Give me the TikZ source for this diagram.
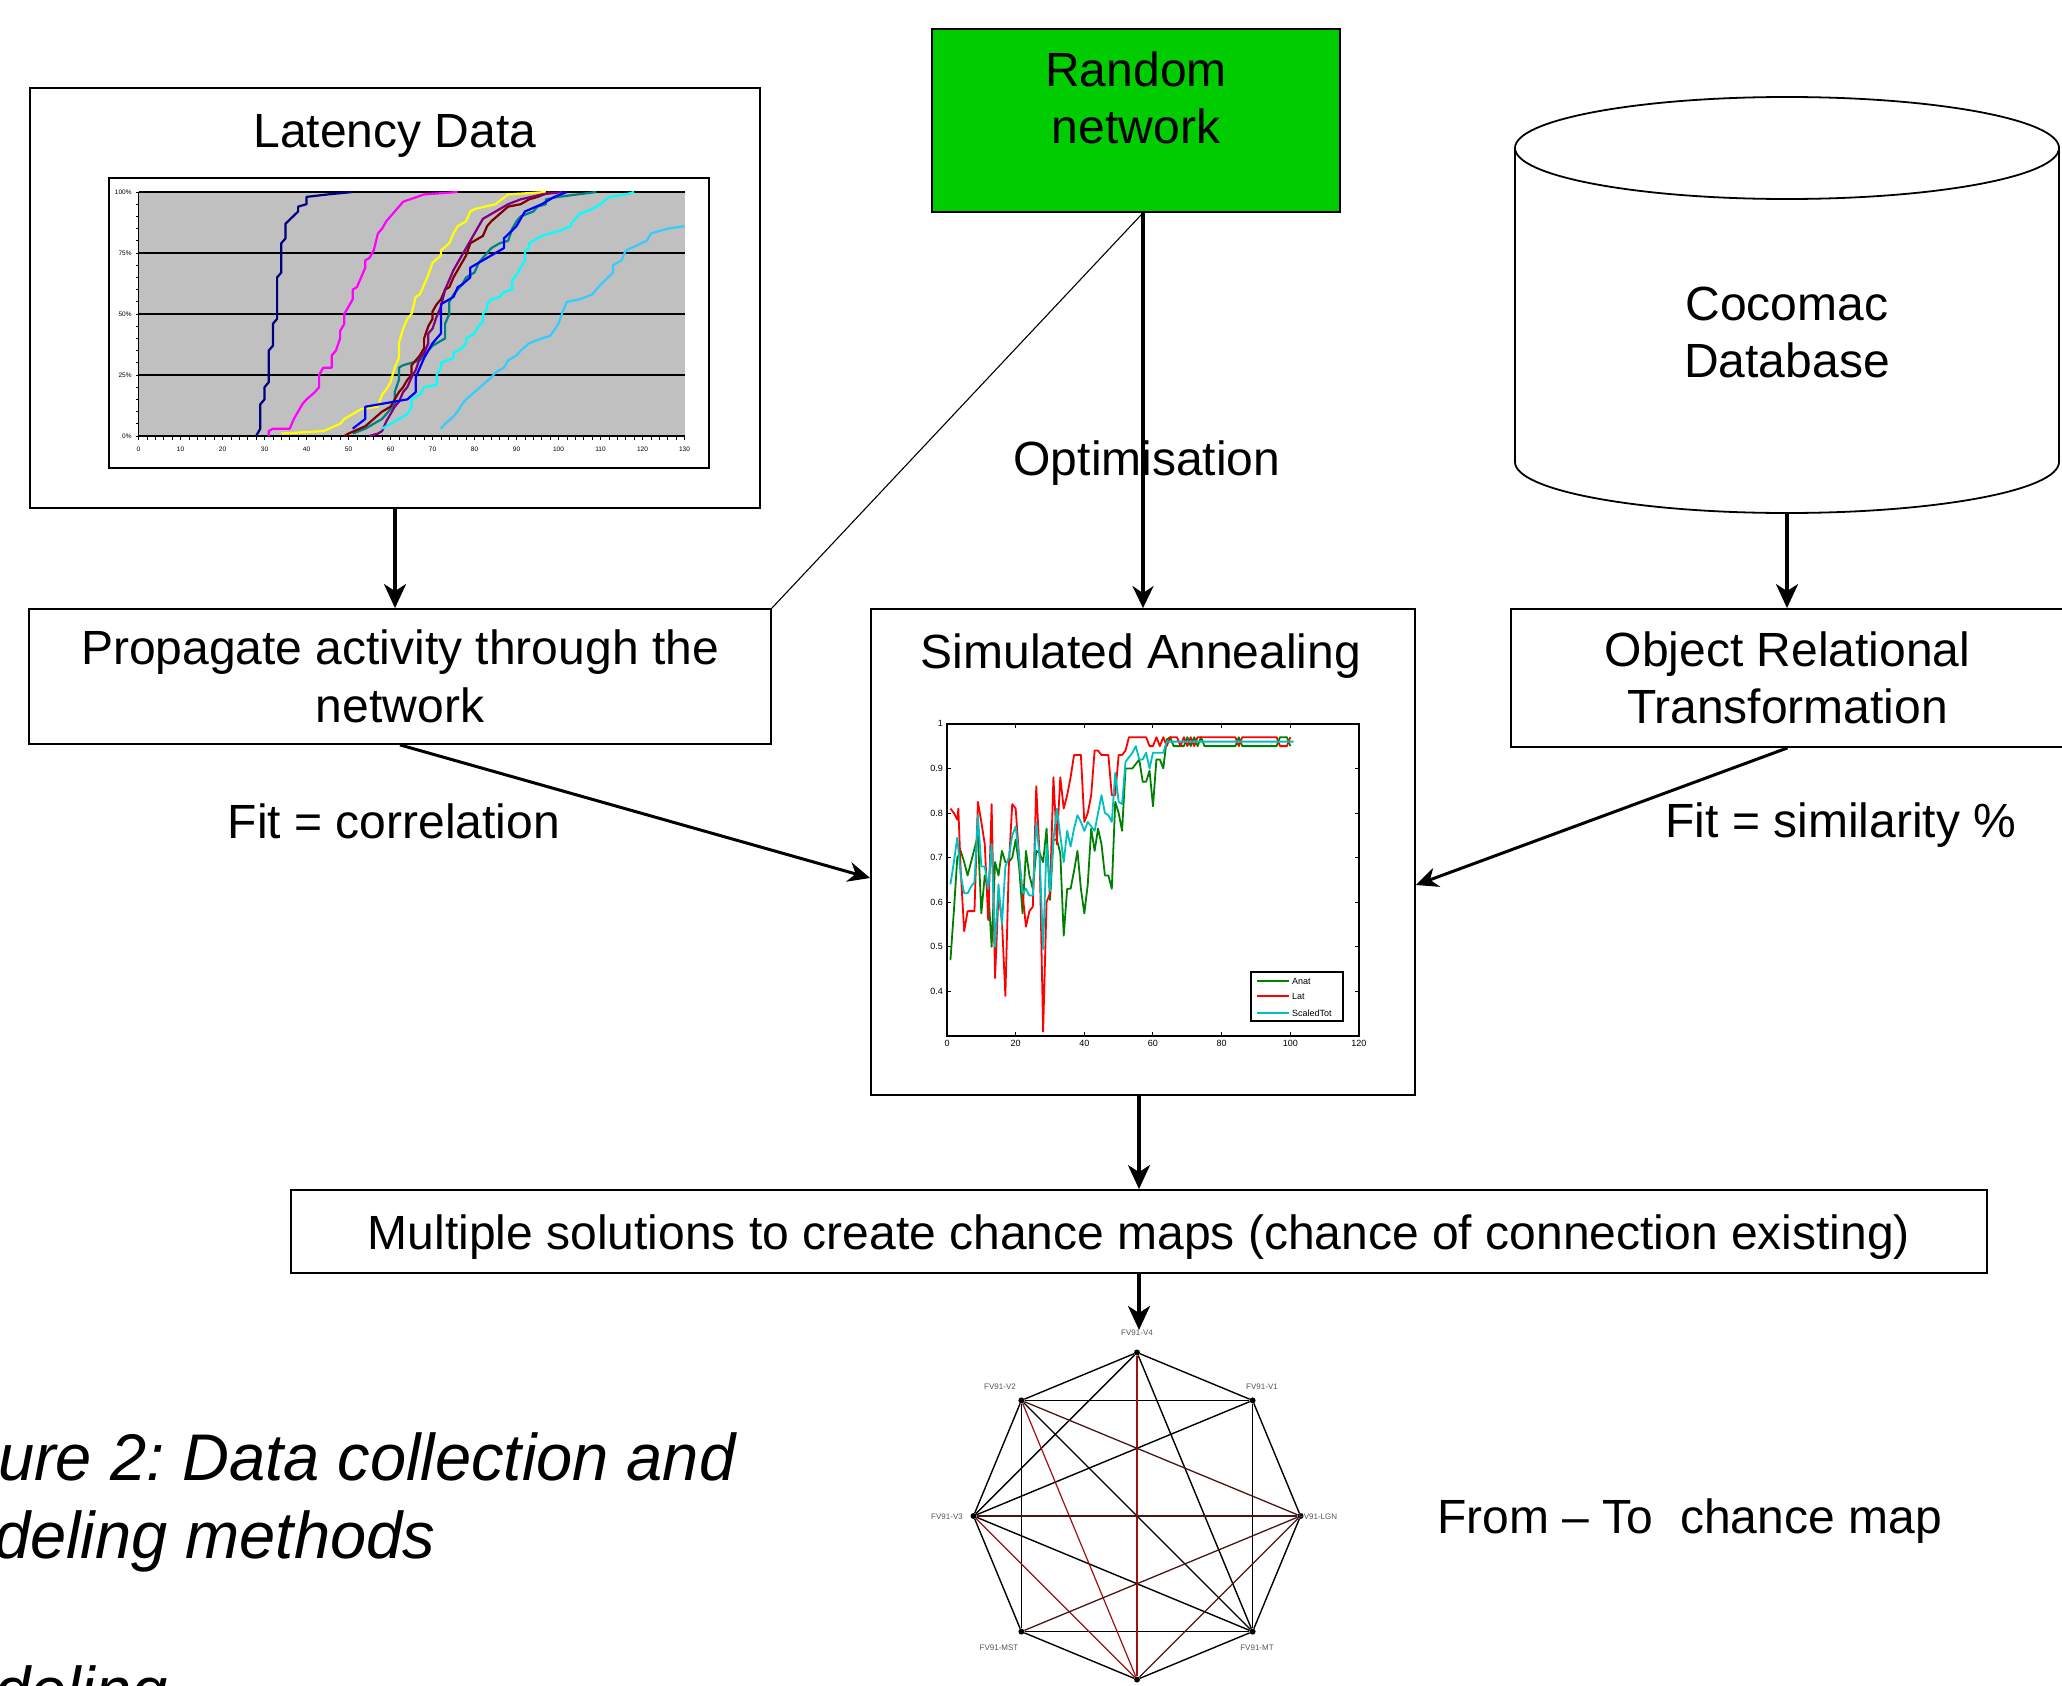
\documentclass[tikz,border=0pt]{standalone}
\usepackage{fontspec}
\setmainfont{Liberation Sans}
\usetikzlibrary{arrows.meta}
\frenchspacing
\definecolor{boxgreen}{HTML}{00CC00}
\definecolor{plotgray}{HTML}{C0C0C0}
\definecolor{cnavy}{HTML}{000080}
\definecolor{cmag}{HTML}{FF00FF}
\definecolor{cyel}{HTML}{FFFF00}
\definecolor{cteal}{HTML}{008080}
\definecolor{cmaroon}{HTML}{800000}
\definecolor{cpurple}{HTML}{800080}
\definecolor{cblue}{HTML}{0000FF}
\definecolor{ccyan}{HTML}{00FFFF}
\definecolor{csky}{HTML}{33CCFF}
\definecolor{sagreen}{HTML}{008000}
\definecolor{sared}{HTML}{FF0000}
\definecolor{sacyan}{HTML}{00BFBF}
\definecolor{edgered}{HTML}{A01010}
\definecolor{edgebrown}{HTML}{4A1515}
\definecolor{lblgray}{HTML}{555555}
\begin{document}
\begin{tikzpicture}[x=1pt,y=-1pt,
  box/.style={draw,line width=1.8pt,rectangle,inner sep=0pt},
  big/.style={font=\fontsize{48}{57.5}\selectfont},
  arr/.style={line width=3.6pt,-{Stealth[length=24pt,width=22pt,inset=7pt]}},
  darr/.style={line width=3pt,-{Stealth[length=22pt,width=20pt,inset=7pt]}},
  gdot/.style={circle,fill=black,inner sep=0pt,minimum size=6pt},
  gl/.style={font=\fontsize{8}{9}\selectfont,text=lblgray,inner sep=0pt},
  ge/.style={line width=1.4pt},
  lc/.style={line width=2.2pt,line join=round},
  sc/.style={line width=1.8pt,line join=round},
  tiny/.style={font=\fontsize{6.5}{7}\selectfont,inner sep=0pt},
  small/.style={font=\fontsize{9}{10}\selectfont,inner sep=0pt},
  capt/.style={font=\fontsize{66}{78}\selectfont\itshape,anchor=base west,inner sep=0pt}]
\useasboundingbox (0,0) rectangle (2062,1686);
\clip (0,0) rectangle (2062,1686);

% ---------- boxes ----------
\node[box,minimum width=730pt,minimum height=420pt] (lat) at (395,298) {};
\node[big,anchor=base] (latt) at (395,147) {Latency Data};
\node[box,fill=boxgreen,minimum width=408pt,minimum height=183pt] (rnd) at (1136,120.5) {};
\node[big,align=center] (rndt) at (1136,98) {Random\\network};
\node[box,big,align=center,minimum width=742pt,minimum height=135pt] (prop) at (400,676.5) {Propagate activity through the\\network};
\node[box,minimum width=544pt,minimum height=486pt] (sa) at (1143,852) {};
\node[big,anchor=base] (sat) at (1141,668) {Simulated Annealing};
\node[box,big,align=center,minimum width=553pt,minimum height=138pt] (ort) at (1787.5,678) {Object Relational\\Transformation};
\node[box,minimum width=1696pt,minimum height=83pt] (ms) at (1139,1231.5) {};
\node[big,anchor=base] (mst) at (1139,1249) {Multiple solutions to create chance maps (chance of connection existing)};

% ---------- cylinder ----------
\draw[line width=1.8pt,fill=white] (1515,148) -- (1515,462) arc[start angle=180,end angle=360,x radius=272pt,y radius=51pt] -- (2059,148);
\draw[line width=1.8pt] (1787,148) ellipse [x radius=272pt,y radius=51pt];
\node[big,align=center] (db) at (1787,332.5) {Cocomac\\Database};
\coordinate (dbbot) at (1787,513);

% ---------- latency chart ----------
\draw[line width=1.8pt,fill=white] (109,178) rectangle (709,468);
\begin{scope}[shift={(138.5pt,-436pt)},x=4.2pt,y=2.44pt]
  \fill[plotgray] (0,0) rectangle (130,100);
  \foreach \p in {25,50,75,100} \draw[line width=1.6pt] (0,\p) -- (130,\p);
  \foreach \i in {0,2,...,130} \draw[line width=0.8pt] (\i,0) -- (\i,-1.6);
  \foreach \p in {0,5,...,100} \draw[line width=0.8pt] (0,\p) -- (-0.7,\p);
  \draw[line width=1.6pt] (0,100) -- (0,0) -- (130,0);
  \foreach \p in {0,25,50,75,100} \node[tiny,anchor=east] at (-1.6,\p) {\p\%};
  \foreach \i in {0,10,...,130} \node[tiny] at (\i,-5.3) {\i};
  \draw[lc,cnavy] plot coordinates {(28,0)(29,3)(29,13)(30,15)(30,20)(31,22)(31,35)(32,37)(32,46)(33,48)(33,65)(34,67)(34,79)(35,81)(35,87)(38,92)(38,94)(40,95)(40,98)(45,99)(51,100)};
  \draw[lc,cmag] plot coordinates {(31,0)(31,2)(32,3)(36,3)(37,7)(38,10)(39,13)(40,15)(42,18)(43,20)(43,25)(44,28)(46,28)(46,33)(47,35)(48,40)(48,43)(49,46)(49,50)(50,53)(51,56)(51,60)(52,61)(53,65)(54,69)(54,72)(55,73)(56,76)(57,83)(58,85)(59,88)(60,90)(61,92)(63,96)(68,99)(76,100)};
  \draw[lc,cyel] plot coordinates {(34,1)(44,2)(48,5)(49,7)(53,11)(57,12)(58,17)(59,19)(60,22)(61,28)(62,32)(62,38)(63,44)(64,48)(65,50)(66,57)(67,58)(68,62)(69,66)(70,71)(72,74)(72,76)(74,79)(75,83)(76,86)(78,88)(79,92)(80,93)(85,95)(88,99)(97,100)};
  \draw[lc,cteal] plot coordinates {(51,1)(54,3)(58,7)(61,13)(61,18)(62,23)(62,28)(63,29)(67,31)(70,37)(73,40)(73,46)(74,50)(74,55)(75,58)(77,62)(78,65)(80,67)(81,71)(83,75)(84,77)(86,79)(88,80)(89,85)(90,88)(91,90)(94,92)(95,94)(97,95)(97,97)(100,98)(109,100)};
  \draw[lc,cmaroon] plot coordinates {(49,0)(50,1)(54,4)(56,7)(58,10)(60,12)(61,15)(62,18)(63,20)(64,23)(65,25)(65,29)(66,31)(67,33)(68,36)(68,40)(69,45)(70,48)(70,51)(71,54)(72,56)(73,60)(74,61)(75,65)(76,68)(77,71)(78,74)(79,79)(80,80)(82,82)(83,86)(84,88)(86,91)(88,94)(91,95)(93,97)(95,98)(98,100)};
  \draw[lc,cpurple] plot coordinates {(55,0)(57,1)(58,2)(59,6)(60,9)(61,12)(62,14)(63,18)(64,20)(65,24)(66,27)(67,32)(68,34)(69,38)(69,42)(70,44)(71,49)(72,53)(73,60)(74,64)(75,68)(76,71)(77,74)(78,77)(79,80)(80,83)(81,86)(82,89)(84,91)(86,93)(88,95)(91,97)(96,99)(101,100)};
  \draw[lc,cblue] plot coordinates {(51,3)(54,7)(54,12)(64,15)(66,18)(66,24)(67,28)(68,32)(69,35)(70,38)(72,42)(72,54)(73,55)(75,57)(76,61)(77,62)(79,65)(79,69)(81,71)(84,74)(87,77)(87,81)(90,86)(91,89)(92,92)(96,95)(99,98)(102,100)};
  \draw[lc,ccyan] plot coordinates {(58,3)(60,5)(62,7)(64,9)(65,12)(65,15)(67,17)(68,20)(71,21)(71,25)(72,28)(72,30)(75,32)(75,34)(77,36)(78,38)(78,40)(80,42)(81,45)(82,47)(82,50)(83,52)(83,54)(84,56)(86,57)(87,59)(89,60)(89,64)(90,66)(91,69)(92,72)(92,76)(93,77)(93,79)(96,82)(100,84)(103,86)(103,87)(104,89)(105,91)(108,93)(110,95)(112,98)(116,99)(118,100)};
  \draw[lc,csky] plot coordinates {(72,3)(73,5)(75,8)(76,10)(77,13)(78,15)(80,18)(82,21)(84,24)(85,26)(87,28)(88,31)(90,33)(91,35)(93,38)(96,40)(98,41)(100,46)(101,51)(102,55)(105,56)(108,58)(110,62)(113,67)(113,70)(115,72)(116,76)(121,80)(122,83)(126,85)(130,86)};
\end{scope}

% ---------- annealing chart ----------
\begin{scope}[shift={(947pt,-1169.8pt)},x=3.433pt,y=446pt]
  \foreach \v/\t in {0.4/0.4,0.5/0.5,0.6/0.6,0.7/0.7,0.8/0.8,0.9/0.9,1/1} {
    \draw[line width=1pt] (0,\v) -- (1.2,\v);
    \draw[line width=1pt] (120,\v) -- (118.8,\v);
    \node[small,anchor=east] at ([xshift=-4pt]0,\v) {\t};
  }
  \foreach \i in {0,20,...,120} {
    \draw[line width=1pt] (\i,0.3) -- (\i,0.309);
    \draw[line width=1pt] (\i,1) -- (\i,0.991);
    \node[small,anchor=north] at ([yshift=-4pt]\i,0.3) {\i};
  }
  \draw[sc,sagreen] plot coordinates {(1,.47)(2,.58)(3,.70)(4,.715)(5,.69)(6,.66)(7,.69)(8,.72)(9,.75)(10,.575)(11,.66)(12,.63)(13,.50)(14,.69)(15,.66)(16,.715)(17,.69)(18,.69)(19,.70)(20,.74)(21,.68)(22,.575)(23,.715)(24,.66)(25,.63)(26,.715)(27,.71)(28,.69)(29,.765)(30,.605)(31,.74)(32,.74)(33,.71)(34,.525)(35,.63)(36,.63)(37,.67)(38,.715)(39,.63)(40,.575)(41,.64)(42,.765)(43,.715)(44,.765)(45,.73)(46,.66)(47,.66)(48,.63)(49,.825)(50,.80)(51,.76)(52,.90)(54,.90)(55,.91)(56,.92)(57,.87)(58,.87)(59,.895)(60,.815)(61,.92)(62,.92)(63,.90)(64,.965)(65,.97)(66,.95)(69,.95)(70,.97)(71,.95)(72,.97)(73,.95)(74,.97)(75,.95)(84,.95)(85,.97)(86,.95)(96,.95)(97,.97)(99,.97)(100,.95)};
  \draw[sc,sared] plot coordinates {(1,.81)(2,.80)(3,.785)(3.3,.81)(4,.67)(5,.535)(6,.58)(8,.58)(9,.825)(10,.78)(11,.73)(12,.56)(13,.82)(14,.43)(15,.62)(16,.56)(17,.39)(18,.68)(19,.82)(20,.81)(21,.70)(22,.62)(23,.545)(24,.58)(25,.59)(26,.86)(27,.70)(28,.31)(29,.60)(30,.62)(31,.88)(32,.73)(33,.88)(34,.81)(35,.84)(36,.88)(37,.93)(39,.93)(40,.78)(41,.80)(42,.84)(43,.94)(44,.94)(45,.93)(47,.93)(48,.84)(49,.84)(50,.93)(51,.93)(52,.94)(53,.97)(58,.97)(59,.95)(60,.95)(61,.97)(62,.95)(63,.97)(64,.95)(65,.97)(67,.97)(68,.95)(69,.97)(70,.95)(71,.97)(72,.95)(73,.97)(84,.97)(85,.95)(86,.97)(96,.97)(97,.95)(99,.95)(100,.97)};
  \draw[sc,sacyan] plot coordinates {(1,.64)(2,.69)(3,.745)(4,.66)(5,.62)(6,.62)(7,.635)(8,.645)(9,.795)(10,.68)(11,.68)(12,.63)(13,.73)(14,.50)(15,.64)(16,.55)(17,.68)(18,.70)(19,.75)(20,.77)(21,.70)(22,.62)(23,.63)(24,.615)(25,.615)(26,.78)(27,.70)(28,.495)(29,.73)(30,.625)(31,.74)(32,.81)(33,.75)(34,.69)(35,.76)(36,.725)(37,.765)(38,.795)(39,.78)(40,.76)(41,.78)(42,.77)(43,.76)(44,.80)(45,.84)(46,.80)(47,.795)(48,.78)(49,.89)(50,.825)(51,.82)(52,.915)(53,.925)(54,.935)(55,.95)(56,.92)(57,.92)(58,.935)(59,.90)(60,.935)(63,.935)(64,.96)(101,.96)};
  \draw[line width=1.4pt] (0,0.3) rectangle (120,1);
\end{scope}
\draw[line width=1.6pt,fill=white] (1251,972) rectangle (1343,1021);
\draw[line width=1.6pt,sagreen] (1257,981) -- (1289,981);
\draw[line width=1.6pt,sared] (1257,996) -- (1289,996);
\draw[line width=1.6pt,sacyan] (1257,1013) -- (1289,1013);
\node[small,anchor=west] at (1292,981) {Anat};
\node[small,anchor=west] at (1292,996) {Lat};
\node[small,anchor=west] at (1292,1013) {ScaledTot};

% ---------- labels ----------
\node[big,anchor=base] (opt) at (1147,475) {Optimisation};
\node[big,anchor=base] (fitc) at (394,838) {Fit = correlation};
\node[big,anchor=base] (fits) at (1841,837) {Fit = similarity \%};
\node[big,anchor=base west] (ftc) at (1434,1533) {From – To\ \ chance map};

% ---------- connectors ----------
\draw[arr] (lat.south) -- (lat.south |- prop.north);
\draw[line width=1.1pt] (sa.north |- rnd.south) -- (prop.north east);
\draw[line width=3.3pt,-{Stealth[length=22pt,width=21pt,inset=7pt]}] (sa.north |- rnd.south) -- (sa.north);
\draw[arr] (dbbot) -- (dbbot |- ort.north);
\draw[darr] (prop.south) -- ([yshift=-26pt]sa.west);
\draw[darr] (ort.south) -- ([yshift=-33pt]sa.east);
\draw[arr] (ms.north |- sa.south) -- (ms.north);

% ---------- chance map graph ----------
\node[gdot] (nA) at (1137,1352.5) {};
\node[gdot] (nB) at (1252.6,1400.4) {};
\node[gdot] (nC) at (1300.5,1516) {};
\node[gdot] (nD) at (1252.6,1631.6) {};
\node[gdot] (nE) at (1137,1679.5) {};
\node[gdot] (nF) at (1021.4,1631.6) {};
\node[gdot] (nG) at (973.5,1516) {};
\node[gdot] (nH) at (1021.4,1400.4) {};
\node[gl] (lv4) at (1137,1333) {FV91-V4};
\node[gl] (lv2) at (1000,1387) {FV91-V2};
\node[gl] (lv1) at (1262,1387) {FV91-V1};
\node[gl] (lv3) at (947,1517) {FV91-V3};
\node[gl] (llgn) at (1318,1517) {FV91-LGN};
\node[gl] (lmst) at (999,1648) {FV91-MST};
\node[gl] (lmt) at (1257,1648) {FV91-MT};
\draw[arr] (ms.south) -- (ms.south |- lv4.north);
\foreach \a/\b in {nA/nB,nB/nC,nC/nD,nD/nE,nE/nF,nF/nG,nG/nH,nH/nA,nH/nB,nB/nD,nH/nF,nF/nD,nA/nG,nA/nD,nH/nD,nG/nB,nG/nD}
  \draw[ge] (\a) -- (\b);
\foreach \a/\b in {nA/nE,nH/nE,nG/nE}
  \draw[line width=1.2pt,edgered] (\a) -- (\b);
\foreach \a/\b in {nH/nC,nG/nC,nF/nC,nE/nC}
  \draw[line width=1.3pt,edgebrown] (\a) -- (\b);

% ---------- caption ----------
\node[capt] (cap1) at (-2,1480) {\scalebox{0.985}[1]{ure 2: Data collection and}};
\node[capt] (cap2) at (-6,1558) {\scalebox{0.985}[1]{deling methods}};
\node[capt] (cap3) at (-6,1713) {\scalebox{0.985}[1]{deling}};
\end{tikzpicture}
\end{document}
